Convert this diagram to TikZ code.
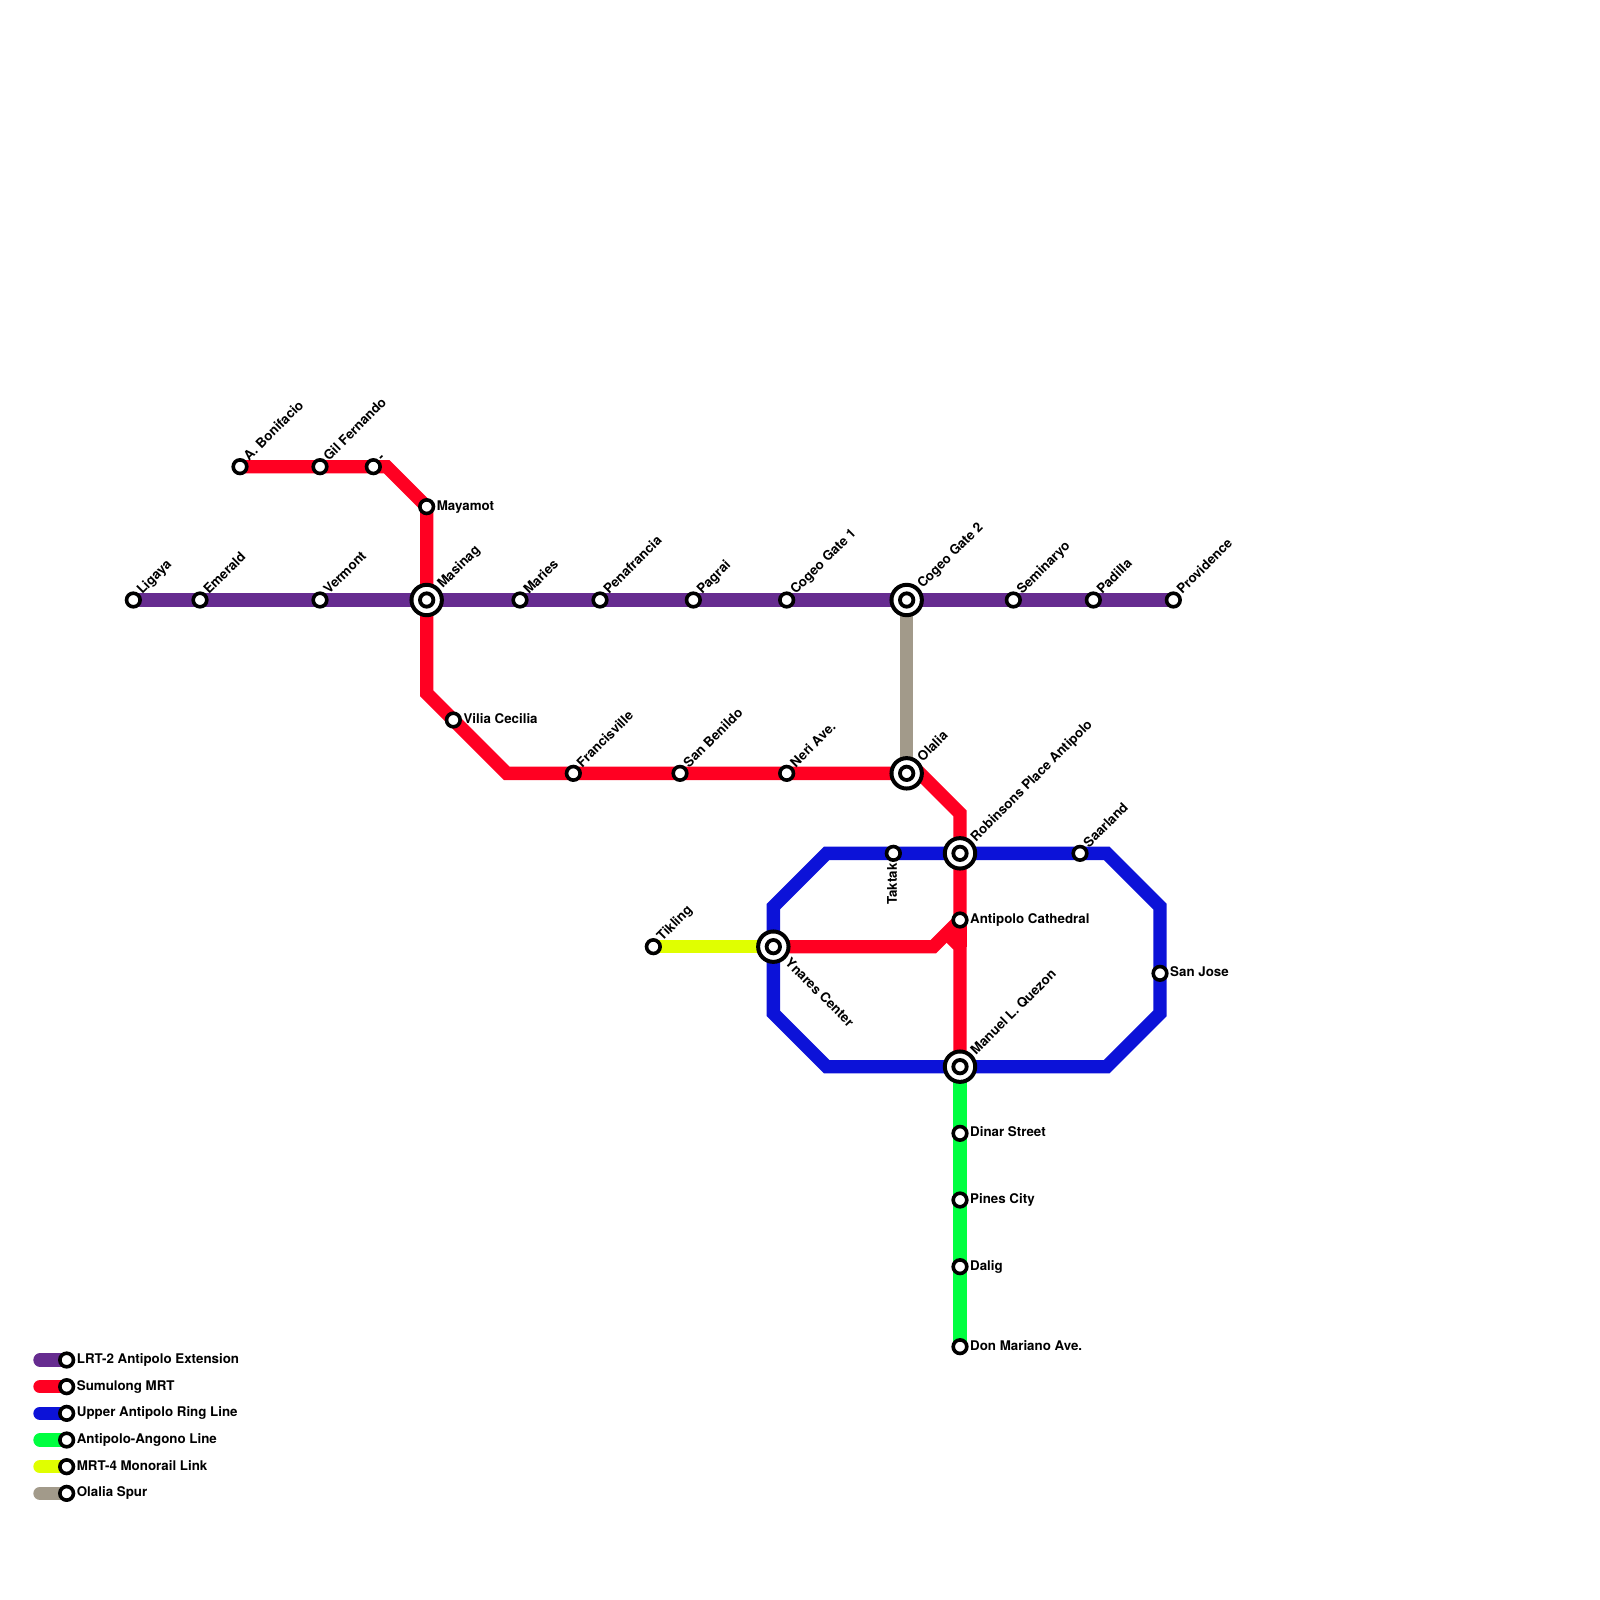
\documentclass[tikz,border=0pt]{standalone}
\usepackage{fontspec}
\setmainfont{TeX Gyre Heros}
\usetikzlibrary{backgrounds}
\definecolor{cpurple}{HTML}{662C90}
\definecolor{cred}{HTML}{FF0022}
\definecolor{cblue}{HTML}{0C12D8}
\definecolor{cgreen}{HTML}{00FF40}
\definecolor{cyellow}{HTML}{E0FF00}
\definecolor{cgray}{HTML}{A29A8A}
\tikzset{
  every node/.append style={font=\bfseries\fontsize{13.33bp}{15bp}\selectfont},
  rail/.style={line width=13.33bp},
  railend/.style={rail,line cap=round},
  stn/.style={circle,draw=black,fill=white,line width=3.6bp,minimum size=13.6bp,inner sep=0pt},
  hub/.style={circle,draw=black,fill=white,line width=4bp,minimum size=30.4bp,inner sep=0pt},
  hubin/.style={circle,draw=black,fill=white,line width=3.8bp,minimum size=13.4bp,inner sep=0pt},
  lbl/.style={inner sep=0pt,text=black},
  lne/.style={lbl,xshift=9bp,yshift=5bp,rotate=45,anchor=base west},
  lhne/.style={lbl,xshift=16bp,yshift=11bp,rotate=45,anchor=base west},
  le/.style={lbl,xshift=10bp,yshift=-3.5bp,anchor=base west},
  lse/.style={lbl,xshift=11bp,yshift=-17bp,rotate=-45,anchor=base west},
  ltop/.style={lbl,xshift=3.6bp,yshift=-10bp,rotate=90,anchor=base east},
}
\newcommand{\hubst}[3]{\node[hub] (#1) at (#2,#3) {}; \node[hubin] (#1i) at (#2,#3) {};}
\begin{document}
\begin{tikzpicture}[x=13.3333bp,y=-13.3333bp]
\useasboundingbox (0,0) rectangle (120,120);
% purple stations
\node[stn] (ligaya) at (10,45) {}; \node[lne] (ligayaL) at (10,45) {Ligaya};
\node[stn] (emerald) at (15,45) {}; \node[lne] (emeraldL) at (15,45) {Emerald};
\node[stn] (vermont) at (24,45) {}; \node[lne] (vermontL) at (24,45) {Vermont};
\hubst{masinag}{32}{45} \node[lhne] (masinagL) at (32,45) {Masinag};
\node[stn] (maries) at (39,45) {}; \node[lne] (mariesL) at (39,45) {Maries};
\node[stn] (pena) at (45,45) {}; \node[lne] (penaL) at (45,45) {Penafrancia};
\node[stn] (pagrai) at (52,45) {}; \node[lne] (pagraiL) at (52,45) {Pagrai};
\node[stn] (gate1) at (59,45) {}; \node[lne] (gate1L) at (59,45) {Cogeo Gate 1};
\hubst{gate2}{68}{45} \node[lhne] (gate2L) at (68,45) {Cogeo Gate 2};
\node[stn] (semi) at (76,45) {}; \node[lne] (semiL) at (76,45) {Seminaryo};
\node[stn] (padilla) at (82,45) {}; \node[lne] (padillaL) at (82,45) {Padilla};
\node[stn] (prov) at (88,45) {}; \node[lne] (provL) at (88,45) {Providence};
% red stations
\node[stn] (boni) at (18,35) {}; \node[lne] (boniL) at (18,35) {A. Bonifacio};
\node[stn] (gil) at (24,35) {}; \node[lne] (gilL) at (24,35) {Gil Fernando};
\node[stn] (unnamed) at (28,35) {}; \node[lne] (unnamedL) at (28,35) {-};
\node[stn] (maya) at (32,38) {}; \node[le] (mayaL) at (32,38) {Mayamot};
\node[stn] (vilia) at (34,54) {}; \node[le] (viliaL) at (34,54) {Vilia Cecilia};
\node[stn] (franc) at (43,58) {}; \node[lne] (francL) at (43,58) {Francisville};
\node[stn] (benildo) at (51,58) {}; \node[lne] (benildoL) at (51,58) {San Benildo};
\node[stn] (neri) at (59,58) {}; \node[lne] (neriL) at (59,58) {Neri Ave.};
\hubst{olalia}{68}{58} \node[lhne] (olaliaL) at (68,58) {Olalia};
\hubst{robin}{72}{64} \node[lhne] (robinL) at (72,64) {Robinsons Place Antipolo};
\node[stn] (cath) at (72,69) {}; \node[le] (cathL) at (72,69) {Antipolo Cathedral};
\hubst{quezon}{72}{80} \node[lhne] (quezonL) at (72,80) {Manuel L. Quezon};
\hubst{ynares}{58}{71} \node[lse] (ynaresL) at (58,71) {Ynares Center};
% blue stations
\node[stn] (taktak) at (67,64) {}; \node[ltop] (taktakL) at (67,64) {Taktak};
\node[stn] (saar) at (81,64) {}; \node[lne] (saarL) at (81,64) {Saarland};
\node[stn] (sanjose) at (87,73) {}; \node[le] (sanjoseL) at (87,73) {San Jose};
% green stations
\node[stn] (dinar) at (72,85) {}; \node[le] (dinarL) at (72,85) {Dinar Street};
\node[stn] (pines) at (72,90) {}; \node[le] (pinesL) at (72,90) {Pines City};
\node[stn] (dalig) at (72,95) {}; \node[le] (daligL) at (72,95) {Dalig};
\node[stn] (mariano) at (72,101) {}; \node[le] (marianoL) at (72,101) {Don Mariano Ave.};
% yellow
\node[stn] (tikling) at (49,71) {}; \node[lne] (tiklingL) at (49,71) {Tikling};
% legend
\coordinate (k1) at (3,102); \node[stn] (s1) at (5,102) {}; \node[le] (t1) at (5,102) {LRT-2 Antipolo Extension};
\coordinate (k2) at (3,104); \node[stn] (s2) at (5,104) {}; \node[le] (t2) at (5,104) {Sumulong MRT};
\coordinate (k3) at (3,106); \node[stn] (s3) at (5,106) {}; \node[le] (t3) at (5,106) {Upper Antipolo Ring Line};
\coordinate (k4) at (3,108); \node[stn] (s4) at (5,108) {}; \node[le] (t4) at (5,108) {Antipolo-Angono Line};
\coordinate (k5) at (3,110); \node[stn] (s5) at (5,110) {}; \node[le] (t5) at (5,110) {MRT-4 Monorail Link};
\coordinate (k6) at (3,112); \node[stn] (s6) at (5,112) {}; \node[le] (t6) at (5,112) {Olalia Spur};
\begin{scope}[on background layer]
% legend swatches
\draw[railend,cpurple] (k1) -- (s1.center);
\draw[railend,cred] (k2) -- (s2.center);
\draw[railend,cblue] (k3) -- (s3.center);
\draw[railend,cgreen] (k4) -- (s4.center);
\draw[railend,cyellow] (k5) -- (s5.center);
\draw[railend,cgray] (k6) -- (s6.center);
% lines
\draw[rail,cgray] (gate2.center) -- (olalia.center);
\draw[rail,cyellow] (tikling.center) -- (ynares.center);
\draw[rail,cgreen] (quezon.center) -- (mariano.center);
\draw[rail,cpurple] (ligaya.center) -- (prov.center);
\draw[rail,cred] (boni.center) -- (unnamed.center) -- (29,35) -- (maya.center) -- (masinag.center) -- (32,52) -- (vilia.center) -- (38,58) -- (olalia.center) -- (69,58) -- (72,61) -- (cath.center);
\draw[rail,cred] (ynares.center) -- (70,71) -- (cath.center);
\draw[rail,cred] (71,70) -- (72,71) -- (quezon.center);
\draw[rail,cred] (cath.center) -- (72,71);
\draw[rail,cblue] (robin.center) -- (saar.center) -- (83,64) -- (87,68) -- (sanjose.center) -- (87,76) -- (83,80) -- (quezon.center) -- (62,80) -- (58,76) -- (ynares.center) -- (58,68) -- (62,64) -- (taktak.center) -- (robin.center);
\end{scope}
\end{tikzpicture}
\end{document}
